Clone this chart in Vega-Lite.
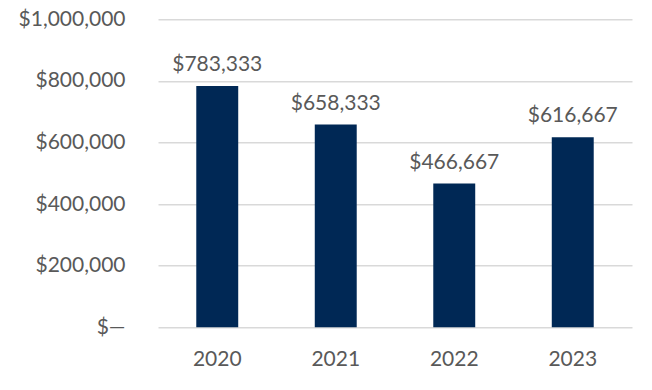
{
  "$schema": "https://vega.github.io/schema/vega-lite/v6.json",
  "autosize": {"type": "none"},
  "padding": {"left": 158, "top": 19.3, "right": 20, "bottom": 62.7},
  "width": 474,
  "height": 308,
  "background": "white",
  "config": {"view": {"stroke": null}, "font": "Lato"},
  "data": {"values": [
    {"year": "2020", "value": 783333},
    {"year": "2021", "value": 658333},
    {"year": "2022", "value": 466667},
    {"year": "2023", "value": 616667}
  ]},
  "encoding": {
    "x": {
      "field": "year", "type": "ordinal",
      "scale": {"paddingInner": 0.646, "paddingOuter": 0.323},
      "axis": {"title": null, "labelAngle": 0, "domain": false, "ticks": false, "labelPadding": 21, "labelFontSize": 21, "labelColor": "#595959", "labelFont": "Lato"}
    },
    "y": {
      "field": "value", "type": "quantitative",
      "scale": {"domain": [0, 1000000], "nice": false},
      "axis": {"title": null, "values": [0, 200000, 400000, 600000, 800000, 1000000], "domain": false, "ticks": false, "labelPadding": 33, "labelFontSize": 21, "labelColor": "#595959", "labelFont": "Lato", "gridColor": "#d9d9d9", "gridWidth": 1.5,
        "labelExpr": "datum.value == 0 ? '$—' : '$' + format(datum.value, ',')"}
    }
  },
  "layer": [
    {"mark": {"type": "bar", "color": "#002855"}},
    {"mark": {"type": "text", "dy": -21, "fontSize": 21, "color": "#595959", "font": "Lato"},
     "encoding": {"text": {"field": "value", "type": "quantitative", "format": "$,"}}}
  ]
}
